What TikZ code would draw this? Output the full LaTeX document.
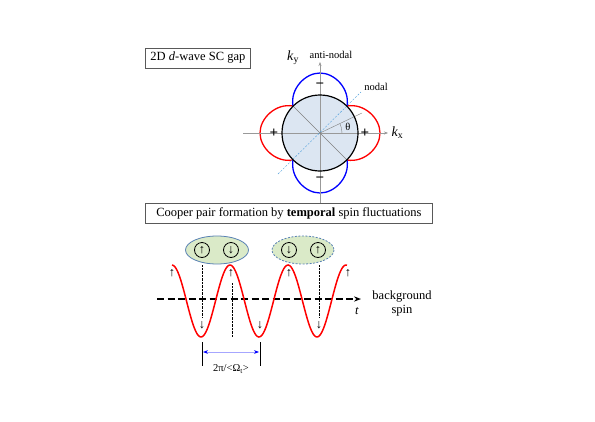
\documentclass[tikz,border=0pt]{standalone}
\usepackage{fontspec}
\setmainfont{Liberation Serif}
\usetikzlibrary{positioning, arrows.meta, calc}
\definecolor{gapfill}{RGB}{220,230,242}
\definecolor{pairfill}{RGB}{218,234,200}
\definecolor{pairline}{RGB}{90,130,180}
\definecolor{nodalblue}{RGB}{80,160,220}
\tikzset{
  titlebox/.style={draw=black!65, thick, inner xsep=4pt, minimum height=20pt, anchor=west},
  spin/.style={circle, draw, thick, inner sep=0pt, minimum size=15pt},
  sign/.style={font=\fontsize{15}{15}\selectfont\bfseries},
  smalltxt/.style={font=\fontsize{10.5}{12}\selectfont},
  lobe/.style={line width=1.3pt},
}
\begin{document}
\begin{tikzpicture}[x=1pt, y=-1pt, font=\fontsize{12.5}{14}\selectfont]
    \useasboundingbox (0,0) rectangle (595,421);
    % d-wave gap
    \coordinate (O) at (320,133);
    \begin{scope}[shift={(O)}]
        \draw[red, lobe] (-27,-27) .. controls (-44,-30) and (-60,-15) .. (-60,0) .. controls (-60,15) and (-44,30) .. (-27,27);
        \draw[red, lobe] (27,-27) .. controls (44,-30) and (60,-15) .. (60,0) .. controls (60,15) and (44,30) .. (27,27);
        \draw[blue, lobe] (-27,-27) .. controls (-30,-44) and (-15,-60) .. (0,-60) .. controls (15,-60) and (30,-44) .. (27,-27);
        \draw[blue, lobe] (-27,27) .. controls (-30,44) and (-15,60) .. (0,60) .. controls (15,60) and (30,44) .. (27,27);
    \end{scope}
    \fill[gapfill] (O) circle (38);
    \draw[black!40, -{Stealth[length=4pt]}] (243,133) -- (388,133) node[right, black, font=\fontsize{14}{14}\selectfont] (kx) {\textit{k}\textsubscript{x}};
    \draw[black!40, -{Stealth[length=4pt]}] (320,203) -- (320,62);
    \node[font=\fontsize{14}{14}\selectfont] (ky) at (293,58) {\textit{k}\textsubscript{y}};
    \node[smalltxt] (anti) at (331,55) {anti-nodal};
    \draw[black!50] ($(O)+(-27,-27)$) -- ($(O)+(27,27)$);
    \draw[nodalblue, dash pattern=on 2pt off 1.5pt] (278,174) -- (361,92);
    \node[smalltxt] (nodal) at (376,87) {nodal};
    \draw[black!50] (O) -- ++(42,-20);
    \draw[black!50] ($(O)+(22,0)$) arc[start angle=0, end angle=-25, radius=22];
    \node[smalltxt] (theta) at (348,127) {θ};
    \draw[black, line width=1.2pt] (O) circle (38);
    \node[sign] (ptop) at (320,86) {−};
    \node[sign] (pbot) at (320,180) {−};
    \node[sign] (pleft) at (274,133) {+};
    \node[sign] (pright) at (365,133) {+};
    \node[titlebox, minimum width=105pt] (gapbox) at (145,58) {2D \textit{d}-wave SC gap};
    \node[titlebox, minimum width=287pt] (pairbox) at (145,213) {Cooper pair formation by \textbf{temporal} spin fluctuations};
    % temporal spin fluctuations
    \draw[line width=1.5pt, dash pattern=on 7pt off 3.5pt, -{Stealth[length=7pt]}] (157,299) -- (361,299);
    \node (t) at (357,311) {\textit{t}};
    \node[align=center] (bg) at (402,303) {background\\spin};
    \draw[red, line width=1.5pt, domain=172:347, samples=120] plot (\x, {301-36*cos((\x-172)/58*360)});
    \foreach \x in {172,231,289,348} \node (up\x) at (\x,273) {↑};
    \foreach \x in {202,260,319} \node (dn\x) at (\x,325) {↓};
    \draw[pairline, thick, fill=pairfill] (217,250) ellipse [x radius=31.5, y radius=14];
    \draw[pairline, thick, fill=pairfill, dash pattern=on 2pt off 1.5pt] (303,250) ellipse [x radius=31, y radius=14];
    \node[spin] (a1) at (202,250) {↑};
    \node[spin] (a2) at (231,250) {↓};
    \node[spin] (b1) at (289,250) {↓};
    \node[spin] (b2) at (318,250) {↑};
    \draw[densely dotted] (202,265) -- (dn202.north);
    \draw[densely dotted] (232,283) -- (232,337);
    \draw[densely dotted] (319,265) -- (dn319.north);
    \draw[thick] (202,342) -- (202,366);
    \draw[thick] (260,342) -- (260,366);
    \draw[blue!35, line width=1pt, {Stealth[blue, length=5pt]}-{Stealth[blue, length=5pt]}] (203,352) -- (259,352);
    \node[smalltxt] (period) at (231,369) {2π/<Ω\textsubscript{t}>};
\end{tikzpicture}
\end{document}
